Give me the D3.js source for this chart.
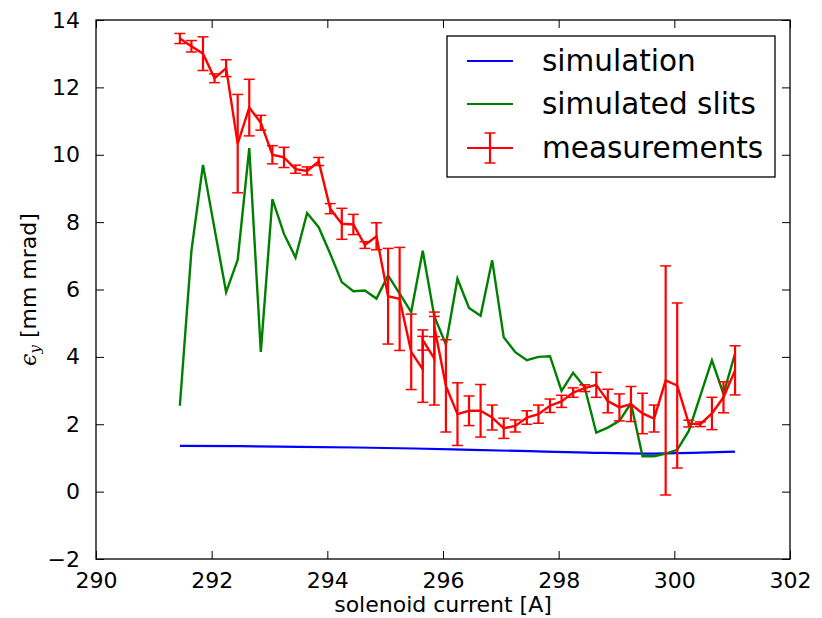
<!DOCTYPE html>
<html>
<head>
<meta charset="utf-8">
<script src="https://cdn.jsdelivr.net/npm/d3@7"></script>
<style>
  body { margin: 0; background: #fff; }
  text { font-family: "DejaVu Sans", sans-serif; }
</style>
</head>
<body>
<div id="chart"></div>
<script>
// solenoid scan, emittance vs current

var simCurrent = [291.45, 292.5, 293.5, 294.5, 295.5, 296.5, 297.5, 298.5, 299.5, 300.3, 301.05];
var simEmit = [1.36, 1.35, 1.33, 1.31, 1.28, 1.24, 1.2, 1.16, 1.13, 1.15, 1.19];

var slitCurrent = [291.45, 291.65, 291.85, 292.05, 292.25, 292.45, 292.65, 292.85, 293.05, 293.25,
  293.45, 293.65, 293.85, 294.05, 294.25, 294.45, 294.65, 294.85, 295.05, 295.25,
  295.45, 295.65, 295.85, 296.05, 296.25, 296.45, 296.65, 296.85, 297.05, 297.25,
  297.45, 297.65, 297.85, 298.05, 298.25, 298.45, 298.65, 298.85, 299.05, 299.25,
  299.45, 299.65, 299.85, 300.05, 300.25, 300.45, 300.65, 300.85, 301.05];
var slitEmit = [2.55, 7.15, 9.7, 7.8, 5.92, 6.88, 10.2, 4.15, 8.68, 7.65,
  6.95, 8.27, 7.85, 7.06, 6.22, 5.95, 5.97, 5.73, 6.42, 5.88,
  5.33, 7.15, 5.2, 4.37, 6.32, 5.45, 5.22, 6.87, 4.58, 4.14,
  3.9, 4.0, 4.02, 2.99, 3.53, 3.1, 1.75, 1.9, 2.1, 2.62,
  1.05, 1.05, 1.13, 1.24, 1.8, 2.85, 3.9, 2.9, 4.1];

var measCurrent = [291.45, 291.65, 291.85, 292.05, 292.25, 292.45, 292.65, 292.85, 293.05, 293.25,
  293.45, 293.65, 293.85, 294.05, 294.25, 294.45, 294.65, 294.85, 295.05, 295.25,
  295.45, 295.65, 295.65, 295.85, 295.85, 296.05, 296.25, 296.45, 296.65, 296.85,
  297.05, 297.25, 297.45, 297.65, 297.85, 298.05, 298.25, 298.45, 298.65, 298.85,
  299.05, 299.25, 299.45, 299.65, 299.85, 300.05, 300.25, 300.45, 300.65, 300.85, 301.05];
var measEmit = [13.45, 13.22, 13.0, 12.27, 12.57, 10.33, 11.4, 10.95, 10.0, 9.92,
  9.57, 9.52, 9.8, 8.4, 7.95, 7.93, 7.32, 7.58, 5.8, 5.72,
  4.15, 3.63, 4.5, 3.95, 4.9, 3.14, 2.3, 2.4, 2.4, 2.2,
  1.88, 1.95, 2.2, 2.3, 2.55, 2.68, 2.94, 3.07, 3.17, 2.69,
  2.5, 2.6, 2.32, 2.17, 3.3, 3.15, 2.02, 2.0, 2.32, 2.8, 3.6];
var measErr = [0.15, 0.17, 0.5, 0.13, 0.25, 1.46, 0.84, 0.22, 0.27, 0.3,
  0.12, 0.12, 0.12, 0.15, 0.46, 0.3, 0.1, 0.4, 1.42, 1.53,
  1.12, 0.98, 0.3, 1.38, 0.3, 1.37, 0.93, 0.44, 0.78, 0.37,
  0.3, 0.18, 0.2, 0.27, 0.2, 0.18, 0.14, 0.1, 0.37, 0.35,
  0.4, 0.52, 0.6, 0.4, 3.4, 2.45, 0.1, 0.07, 0.48, 0.46, 0.73];

var xTicks = [290, 292, 294, 296, 298, 300, 302];
var yTicks = [-2, 0, 2, 4, 6, 8, 10, 12, 14];

var svgWidth = 822;
var svgHeight = 618;
var margin = { top: 20, right: 32, bottom: 59, left: 96 };
var width = svgWidth - margin.left - margin.right;
var height = svgHeight - margin.top - margin.bottom;

var svg = d3.select("#chart")
  .append("svg")
  .attr("width", svgWidth)
  .attr("height", svgHeight);

var chartGroup = svg.append("g")
  .attr("transform", `translate(${margin.left}, ${margin.top})`);

var xScale = d3.scaleLinear().domain([290, 302]).range([0, width]);
var yScale = d3.scaleLinear().domain([-2, 14]).range([height, 0]);

var fmt = d => d < 0 ? "\u2212" + Math.abs(d) : String(d);

// axes, matplotlib classic: ticks inside on all sides
function styleAxis(g) {
  g.select(".domain").remove();
  g.selectAll(".tick line").attr("stroke", "#000").attr("stroke-width", 1);
  g.selectAll(".tick text").attr("fill", "#000").attr("font-size", "22px")
    .attr("font-family", "DejaVu Sans, sans-serif");
}

chartGroup.append("g")
  .attr("transform", `translate(0, ${height})`)
  .call(d3.axisBottom(xScale).tickValues(xTicks).tickFormat(fmt).tickSizeInner(-8).tickPadding(13))
  .call(styleAxis);

chartGroup.append("g")
  .call(d3.axisTop(xScale).tickValues(xTicks).tickFormat("").tickSizeInner(-8))
  .call(styleAxis);

chartGroup.append("g")
  .call(d3.axisLeft(yScale).tickValues(yTicks).tickFormat(fmt).tickSizeInner(-8).tickPadding(16))
  .call(styleAxis);

chartGroup.append("g")
  .attr("transform", `translate(${width}, 0)`)
  .call(d3.axisRight(yScale).tickValues(yTicks).tickFormat("").tickSizeInner(-8))
  .call(styleAxis);

var line = d3.line().x(d => xScale(d[0])).y(d => yScale(d[1]));

chartGroup.append("path")
  .datum(d3.zip(simCurrent, simEmit))
  .attr("d", d3.line().curve(d3.curveMonotoneX).x(d => xScale(d[0])).y(d => yScale(d[1])))
  .attr("fill", "none")
  .attr("stroke", "#0000ff")
  .attr("stroke-width", 2.2);

chartGroup.append("path")
  .datum(d3.zip(slitCurrent, slitEmit))
  .attr("d", line)
  .attr("fill", "none")
  .attr("stroke", "#008000")
  .attr("stroke-width", 2.4);

var meas = d3.zip(measCurrent, measEmit, measErr);

chartGroup.append("path")
  .datum(meas)
  .attr("d", line)
  .attr("fill", "none")
  .attr("stroke", "#ff0000")
  .attr("stroke-width", 2.4);

var bars = chartGroup.selectAll(".errbar")
  .data(meas)
  .enter()
  .append("g")
  .attr("class", "errbar")
  .attr("stroke", "#ff0000");

bars.append("line")
  .attr("x1", d => xScale(d[0])).attr("x2", d => xScale(d[0]))
  .attr("y1", d => yScale(d[1] - d[2])).attr("y2", d => yScale(d[1] + d[2]))
  .attr("stroke-width", 2.2);

bars.append("line")
  .attr("x1", d => xScale(d[0]) - 5.5).attr("x2", d => xScale(d[0]) + 5.5)
  .attr("y1", d => yScale(d[1] + d[2])).attr("y2", d => yScale(d[1] + d[2]))
  .attr("stroke-width", 1.5);

bars.append("line")
  .attr("x1", d => xScale(d[0]) - 5.5).attr("x2", d => xScale(d[0]) + 5.5)
  .attr("y1", d => yScale(d[1] - d[2])).attr("y2", d => yScale(d[1] - d[2]))
  .attr("stroke-width", 1.5);

// frame
chartGroup.append("rect")
  .attr("width", width).attr("height", height)
  .attr("fill", "none").attr("stroke", "#000").attr("stroke-width", 1.3);

// axis titles
svg.append("text")
  .attr("x", margin.left + width / 2)
  .attr("y", 612)
  .attr("text-anchor", "middle")
  .attr("font-size", "22px")
  .text("solenoid current [A]");

var yTitle = svg.append("text")
  .attr("transform", `translate(36, ${margin.top + height / 2}) rotate(-90)`)
  .attr("text-anchor", "middle")
  .attr("font-size", "22px");
yTitle.append("tspan")
  .attr("font-family", "DejaVu Serif, serif")
  .attr("font-style", "italic")
  .text("\u03f5");
yTitle.append("tspan")
  .attr("font-family", "DejaVu Serif, serif")
  .attr("font-style", "italic")
  .attr("font-size", "15px")
  .attr("dy", 4)
  .text("y");
yTitle.append("tspan")
  .attr("dy", -4)
  .text(" [mm mrad]");

// legend
var legend = svg.append("g");
legend.append("rect")
  .attr("x", 447).attr("y", 36).attr("width", 328).attr("height", 141)
  .attr("fill", "#fff").attr("stroke", "#000").attr("stroke-width", 1.3);

var legendNames = ["simulation", "simulated slits", "measurements"];
var legendColors = ["#0000ff", "#008000", "#ff0000"];
var legendY = [61, 104, 148];

legendNames.forEach(function (name, i) {
  legend.append("line")
    .attr("x1", 467).attr("x2", 513)
    .attr("y1", legendY[i]).attr("y2", legendY[i])
    .attr("stroke", legendColors[i]).attr("stroke-width", 2.2);
  legend.append("text")
    .attr("x", 542).attr("y", legendY[i])
    .attr("dy", "0.35em")
    .attr("font-size", "29.5px")
    .text(name);
});

legend.append("line")
  .attr("x1", 490).attr("x2", 490).attr("y1", 133).attr("y2", 163)
  .attr("stroke", "#ff0000").attr("stroke-width", 2.2);
legend.append("line")
  .attr("x1", 484.5).attr("x2", 495.5).attr("y1", 133).attr("y2", 133)
  .attr("stroke", "#ff0000").attr("stroke-width", 1.5);
legend.append("line")
  .attr("x1", 484.5).attr("x2", 495.5).attr("y1", 163).attr("y2", 163)
  .attr("stroke", "#ff0000").attr("stroke-width", 1.5);
</script>
</body>
</html>
